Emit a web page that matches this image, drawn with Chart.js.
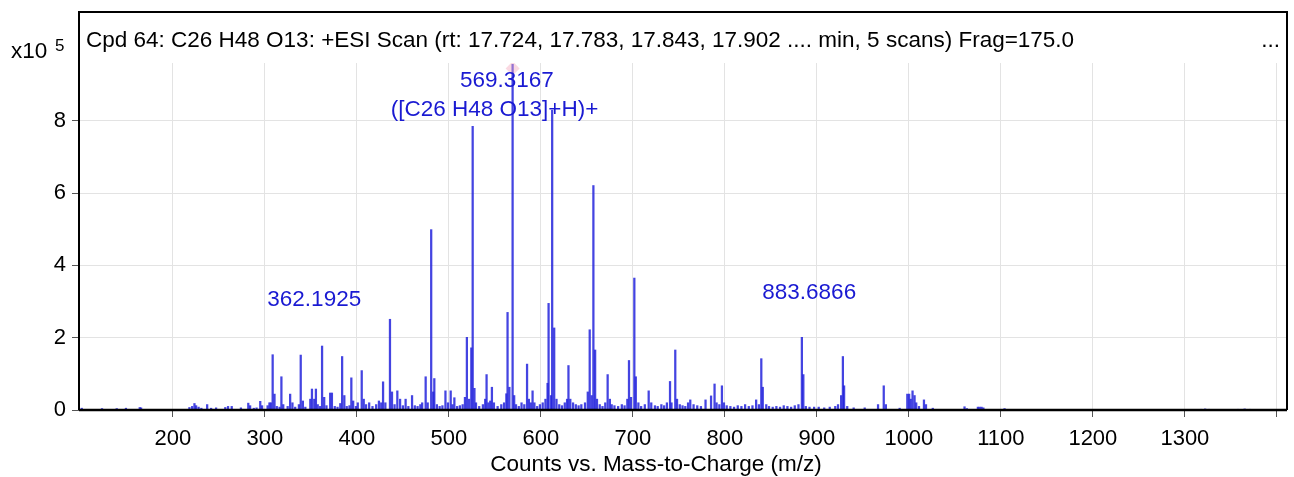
<!DOCTYPE html>
<html>
<head>
<meta charset="utf-8">
<script src="https://cdn.jsdelivr.net/npm/chart.js@4.4.1/dist/chart.umd.min.js"></script>
<style>
  html, body { margin: 0; padding: 0; background: #fff; }
  #wrap { width: 1294px; height: 477px; position: relative; }
</style>
</head>
<body>
<div id="wrap"><canvas id="spectrum"></canvas></div>
<script>
// peak list: m/z and counts (x10^5)
const peakMz = [
  101, 123, 139, 149, 164, 165.5,
  218, 221, 223.5, 225.3, 228, 231, 237.3, 241.6, 247, 257, 260, 264, 274, 282, 284, 288, 291, 295, 297,
  303, 305, 306.5, 308.5, 310.5, 313, 316, 318, 320, 324.8, 327.5, 330, 333, 337, 339, 341.3, 344, 349.4, 351.2,
  353.7, 355.5, 357.5, 360, 362.2, 364.5, 367, 371, 372.9, 376, 379, 382, 384, 386.4, 389, 392, 394, 396, 399,
  401, 405.3, 407.5, 410, 413.4, 417, 421, 424, 426.5, 428.5, 431, 436, 438.2, 441, 444, 447, 450, 453, 456,
  460, 463, 466, 469, 471, 474.8, 477, 480.8, 483, 484.2, 487, 490, 493, 496.3, 499,
  502, 504, 506, 509, 512, 515, 517.5, 519.6, 522, 524.4, 525.9, 527.8, 529.5, 533, 537, 539.5, 541, 543, 545,
  546.8, 549, 553, 557, 560, 562.5, 563.8, 565.8, 569.3, 571, 573, 576, 579, 582, 585, 587, 589, 591, 593, 596, 599,
  602, 605, 607.3, 608.4, 611, 612.3, 614.5, 617, 620, 623, 626, 628.5, 630, 632, 635, 638, 641, 644, 648, 651,
  653.1, 655.2, 657.1, 659, 661, 664, 667, 670, 672.6, 675, 677, 680, 684, 688, 691, 694, 695.8, 698, 701.6, 703.2, 706,
  709, 713, 717.2, 720, 724, 727, 731, 734, 737, 740.4, 742, 746.1, 748, 751, 754, 757, 760, 762.4, 766, 770, 774,
  779, 785, 788.8, 791, 794, 796.8, 799,
  802, 806, 810, 814, 818, 822, 826, 830, 834, 837, 839.6, 841.2, 845, 848, 852, 856, 860, 864, 868, 872, 876, 880,
  883.7, 885.3, 888, 892, 897,
  902, 908, 914, 920, 923, 926.4, 928.3, 929.6, 933, 940, 952, 966.5, 972.7, 975, 990, 998.3, 1000.3, 1002, 1004, 1006.2,
  1008, 1011, 1016.4, 1018.6,
  1026, 1060.5, 1063, 1075, 1077, 1079, 1081, 1104, 1318, 1322, 1326, 1358, 1365, 1371
];
const peakCounts = [
  0.05, 0.04, 0.04, 0.05, 0.07, 0.06,
  0.07, 0.1, 0.18, 0.12, 0.08, 0.05, 0.15, 0.05, 0.06, 0.07, 0.1, 0.1, 0.06, 0.19, 0.12, 0.05, 0.06, 0.24, 0.12,
  0.12, 0.2, 0.2, 1.53, 0.44, 0.1, 0.08, 0.92, 0.15, 0.1, 0.44, 0.2, 0.08, 0.15, 1.52, 0.25, 0.08, 0.3, 0.58,
  0.3, 0.58, 0.15, 0.1, 1.77, 0.35, 0.12, 0.47, 0.47, 0.1, 0.08, 0.18, 1.48, 0.4, 0.1, 0.12, 0.89, 0.25, 0.1,
  0.2, 1.09, 0.3, 0.15, 0.2, 0.1, 0.15, 0.25, 0.2, 0.78, 0.2, 2.51, 0.5, 0.15, 0.53, 0.3, 0.12, 0.3, 0.1,
  0.4, 0.12, 0.1, 0.15, 0.2, 0.92, 0.2, 4.99, 0.5, 0.87, 0.15, 0.1, 0.12, 0.53, 0.2,
  0.53, 0.15, 0.34, 0.1, 0.12, 0.15, 0.35, 2.01, 0.3, 1.72, 7.85, 0.6, 0.2, 0.1, 0.15, 0.3, 0.98, 0.2, 0.25,
  0.63, 0.2, 0.1, 0.15, 0.2, 0.45, 2.7, 0.63, 9.56, 0.4, 0.15, 0.1, 0.2, 0.15, 1.27, 0.3, 0.2, 0.53, 0.2, 0.1, 0.15,
  0.2, 0.3, 0.74, 2.95, 0.4, 8.29, 2.27, 0.3, 0.15, 0.12, 0.2, 0.3, 1.23, 0.3, 0.2, 0.15, 0.12, 0.15, 0.2, 0.5,
  2.22, 0.4, 6.21, 1.66, 0.3, 0.15, 0.1, 0.2, 0.98, 0.3, 0.15, 0.12, 0.1, 0.15, 0.12, 0.3, 1.37, 0.35, 3.65, 0.92, 0.2,
  0.1, 0.15, 0.53, 0.2, 0.12, 0.1, 0.15, 0.12, 0.2, 0.79, 0.2, 1.66, 0.3, 0.15, 0.12, 0.1, 0.2, 0.28, 0.15, 0.12, 0.1,
  0.28, 0.39, 0.72, 0.2, 0.15, 0.67, 0.2,
  0.12, 0.1, 0.08, 0.12, 0.1, 0.15, 0.1, 0.12, 0.28, 0.15, 1.42, 0.63, 0.15, 0.1, 0.08, 0.1, 0.08, 0.12, 0.1, 0.08, 0.12, 0.15,
  2.01, 0.98, 0.1, 0.08, 0.08,
  0.08, 0.06, 0.08, 0.1, 0.15, 0.4, 1.48, 0.67, 0.1, 0.06, 0.06, 0.15, 0.67, 0.15, 0.05, 0.44, 0.44, 0.3, 0.53, 0.4,
  0.2, 0.1, 0.28, 0.15,
  0.05, 0.09, 0.04, 0.08, 0.08, 0.08, 0.06, 0.04, 0.02, 0.03, 0.02, 0.02, 0.03, 0.02
];
const xTicks = [200, 300, 400, 500, 600, 700, 800, 900, 1000, 1100, 1200, 1300, 1400];
const yTicks = [0, 2, 4, 6, 8];
const basePeakMz = 569.3167;
const basePeakCounts = 9.45;
const titleText = 'Cpd 64: C26 H48 O13: +ESI Scan (rt: 17.724, 17.783, 17.843, 17.902 .... min, 5 scans) Frag=175.0';
const xAxisTitle = 'Counts vs. Mass-to-Charge (m/z)';
const peakLabels = ['569.3167', '([C26 H48 O13]+H)+', '362.1925', '883.6866'];

const FONT = '"Liberation Sans", Arial, Helvetica, sans-serif';

// text and frame drawn on top of the chart
const frameAndLabels = {
    id: 'frameAndLabels',
    afterDraw(chart) {
        const ctx = chart.ctx;
        const area = chart.chartArea;
        const xs = chart.scales.x;
        const ys = chart.scales.y;
        ctx.save();

        // frame: left axis up to the title box, top and right borders
        ctx.strokeStyle = '#000';
        ctx.lineWidth = 2;
        ctx.beginPath();
        ctx.moveTo(area.left, area.bottom);
        ctx.lineTo(area.left, 12);
        ctx.lineTo(area.right, 12);
        ctx.lineTo(area.right, area.bottom);
        ctx.stroke();
        ctx.lineWidth = 2.5;
        ctx.beginPath();
        ctx.moveTo(area.left, area.bottom);
        ctx.lineTo(area.right, area.bottom);
        ctx.stroke();

        // title line
        ctx.fillStyle = '#000';
        ctx.font = '22.5px ' + FONT;
        ctx.textBaseline = 'middle';
        ctx.textAlign = 'left';
        ctx.fillText(titleText, area.left + 7, 41);
        ctx.textAlign = 'right';
        ctx.fillText('...', area.right - 7, 41);

        // exponent label
        ctx.textAlign = 'left';
        ctx.fillText('x10', 11, 52);
        ctx.font = '17px ' + FONT;
        ctx.fillText('5', 55, 46);

        // x axis title
        ctx.font = '22.5px ' + FONT;
        ctx.textAlign = 'center';
        ctx.fillText(xAxisTitle, 656, 465);

        // peak annotations
        const spots = [[563.1, 9.1], [549.6, 8.3], [353.7, 3.04], [891.7, 3.24]];
        ctx.fillStyle = '#1a1ad2';
        peakLabels.forEach((t, i) => {
            ctx.fillText(t, xs.getPixelForValue(spots[i][0]), ys.getPixelForValue(spots[i][1]));
        });
        ctx.restore();
    }
};

const ctx = document.getElementById('spectrum').getContext('2d');
new Chart(ctx, {
    data: {
        datasets: [{
            type: 'scatter',
            data: [{ x: basePeakMz, y: basePeakCounts }],
            pointStyle: 'rectRot',
            pointRadius: 7,
            backgroundColor: 'rgba(245, 170, 190, 0.45)',
            borderWidth: 0
        }, {
            type: 'bar',
            data: peakMz.map((m, i) => ({ x: m, y: peakCounts[i] })),
            backgroundColor: 'rgba(35, 35, 220, 0.85)',
            barThickness: 1.6,
            grouped: false
        }]
    },
    options: {
        responsive: true,
        maintainAspectRatio: false,
        animation: false,
        layout: { padding: { top: 63, right: 4, left: 0, bottom: 0 } },
        plugins: { legend: { display: false }, tooltip: { enabled: false } },
        scales: {
            x: {
                type: 'linear',
                offset: false,
                min: 98,
                max: 1411,
                afterBuildTicks: axis => { axis.ticks = xTicks.map(v => ({ value: v })); },
                afterFit: s => { s.height = 67; },
                border: { display: false },
                grid: { color: '#e3e3e3', tickColor: '#555', tickLength: 7, lineWidth: 1, offset: false },
                ticks: {
                    color: '#000',
                    font: { family: FONT, size: 22 },
                    padding: 9,
                    maxRotation: 0,
                    callback: v => (v >= 1400 ? '' : v)
                }
            },
            y: {
                min: 0,
                max: 9.6,
                afterBuildTicks: axis => { axis.ticks = yTicks.map(v => ({ value: v })); },
                afterFit: s => { s.width = 79; },
                border: { display: false },
                grid: { color: '#e3e3e3', tickColor: '#555', tickLength: 7 },
                ticks: {
                    color: '#000',
                    font: { family: FONT, size: 22 },
                    padding: 6
                }
            }
        }
    },
    plugins: [frameAndLabels]
});
</script>
</body>
</html>
